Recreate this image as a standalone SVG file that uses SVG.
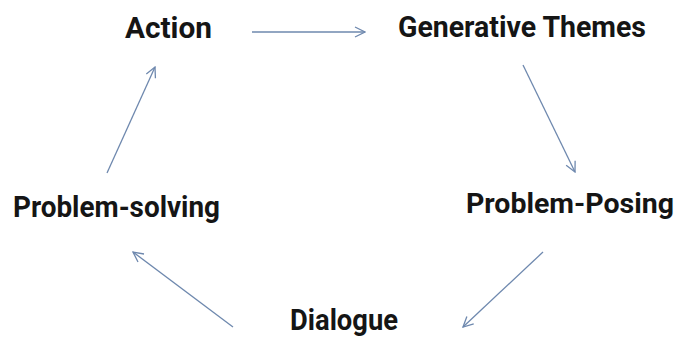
<svg xmlns="http://www.w3.org/2000/svg" width="680" height="339" viewBox="0 0 680 339">
  <style>
    .label { font-family: Roboto, "Open Sans", "Liberation Sans", sans-serif; font-weight: 700; font-size: 30px; fill: #151515; }
    .end { text-anchor: end; }
    .link { stroke: #6E88AE; stroke-width: 1.3; fill: none; marker-end: url(#head); }
  </style>
  <defs>
    <marker id="head" viewBox="0 0 12 12" refX="11" refY="6" markerWidth="12" markerHeight="12" markerUnits="userSpaceOnUse" orient="auto">
      <path d="M1,1 L11,6 L1,11" fill="none" stroke="#6E88AE" stroke-width="1.3"/>
    </marker>
  </defs>
  <rect width="680" height="339" fill="#ffffff"/>

  <g id="action"><text class="label" x="125" y="38" textLength="87" lengthAdjust="spacingAndGlyphs">Action</text></g>
  <g id="generative-themes"><text class="label end" x="646" y="37" textLength="248" lengthAdjust="spacingAndGlyphs">Generative Themes</text></g>
  <g id="problem-posing"><text class="label end" x="674" y="213" style="font-size:28.5px">Problem-Posing</text></g>
  <g id="dialogue"><text class="label" x="290" y="330" textLength="108" lengthAdjust="spacingAndGlyphs">Dialogue</text></g>
  <g id="problem-solving"><text class="label" x="13" y="217" textLength="207" lengthAdjust="spacingAndGlyphs">Problem-solving</text></g>

  <g id="connectors">
    <line class="link" x1="252" y1="32" x2="365" y2="32"/>
    <line class="link" x1="523" y1="65" x2="575" y2="172"/>
    <line class="link" x1="543" y1="252" x2="463" y2="327"/>
    <line class="link" x1="233" y1="327" x2="133" y2="252"/>
    <line class="link" x1="107" y1="173" x2="155" y2="67"/>
  </g>
</svg>
